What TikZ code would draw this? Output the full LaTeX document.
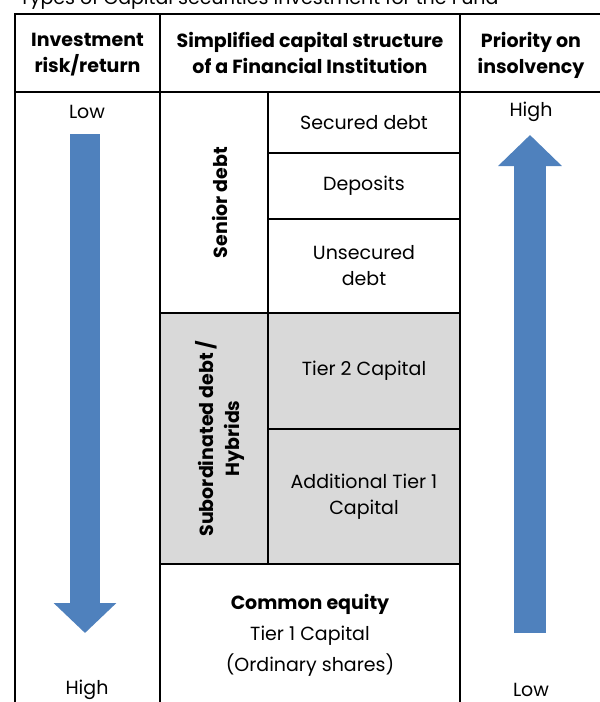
\documentclass[tikz,border=0pt]{standalone}
\usepackage{fontspec}
\setmainfont{Poppins}
\usetikzlibrary{positioning,arrows.meta}
\definecolor{capblue}{HTML}{4F81BD}
\definecolor{subgray}{HTML}{D9D9D9}
\tikzset{
    cell/.style={draw, line width=2.2pt, outer sep=0pt, inner sep=0pt, align=center,
        font=\fontsize{19}{26}\selectfont},
    head/.style={cell, minimum height=78pt, text depth=-4pt, font=\fontsize{19}{26}\selectfont\bfseries},
    sub/.style={cell, fill=subgray},
    lbl/.style={font=\fontsize{19}{26}\selectfont},
    vlbl/.style={rotate=90, align=center, font=\fontsize{19}{26}\selectfont\bfseries},
    bigarrow/.style={draw=capblue, line width=30pt, -{Triangle[width=61pt,length=30pt]}}
}
\begin{document}
\begin{tikzpicture}[x=1pt,y=-1pt]
        \useasboundingbox (0,0) rectangle (600,702);
        \clip (0,0) rectangle (600,702);
        \node[anchor=base west, lbl] (title) at (16,4) {Types of Capital securities investment for the Fund};
        \node[head, minimum width=145pt, anchor=north west] (hrisk) at (15,14) {Investment\\risk/return};
        \node[head, minimum width=300pt, right=0pt of hrisk] (hstruct) {Simplified capital structure\\of a Financial Institution};
        \node[head, minimum width=142pt, right=0pt of hstruct] (hprio) {Priority on\\insolvency};
        \node[cell, minimum width=145pt, minimum height=614pt, below=0pt of hrisk] (risk) {};
        \node[cell, minimum width=142pt, minimum height=614pt, below=0pt of hprio] (prio) {};
        \node[cell, minimum width=108pt, minimum height=221pt, below right=0pt and 0pt of hstruct.south west] (senior) {};
        \node[cell, minimum width=192pt, minimum height=61pt, below right=0pt and 0pt of senior.north east] (secured) {Secured debt};
        \node[cell, minimum width=192pt, minimum height=66pt, below=0pt of secured] (deposits) {Deposits};
        \node[cell, minimum width=192pt, minimum height=94pt, below=0pt of deposits] (unsecured) {Unsecured\\debt};
        \node[sub, minimum width=108pt, minimum height=251pt, below=0pt of senior] (subdebt) {};
        \node[sub, minimum width=192pt, minimum height=116pt, below=0pt of unsecured] (tiertwo) {Tier 2 Capital};
        \node[sub, minimum width=192pt, minimum height=135pt, below=0pt of tiertwo] (addtier) {Additional Tier 1\\Capital};
        \node[cell, minimum width=300pt, minimum height=142pt, below right=0pt and 0pt of subdebt.south west] (equity) {\textbf{Common equity}\\[5pt]Tier 1 Capital\\[5pt](Ordinary shares)};
        \node[vlbl, yshift=-6pt] (seniorlbl) at (senior) {Senior debt};
        \node[vlbl, yshift=-6pt] (sublbl) at (subdebt) {Subordinated debt /\\Hybrids};
        \node[lbl] (risklow) at (87,112) {Low};
        \node[lbl] (riskhigh) at (87,690) {High};
        \node[lbl] (priohigh) at (531,112) {High};
        \node[lbl] (priolow) at (531,690) {Low};
        \coordinate (risktop) at (85,134);
        \coordinate (risktip) at (85,633);
        \coordinate (priobot) at (530,633);
        \coordinate (priotip) at (530,135);
        \draw[bigarrow] (risktop) -- (risktip);
        \draw[bigarrow, line width=32pt, -{Triangle[width=62pt,length=31pt]}] (priobot) -- (priotip);
\end{tikzpicture}
\end{document}
